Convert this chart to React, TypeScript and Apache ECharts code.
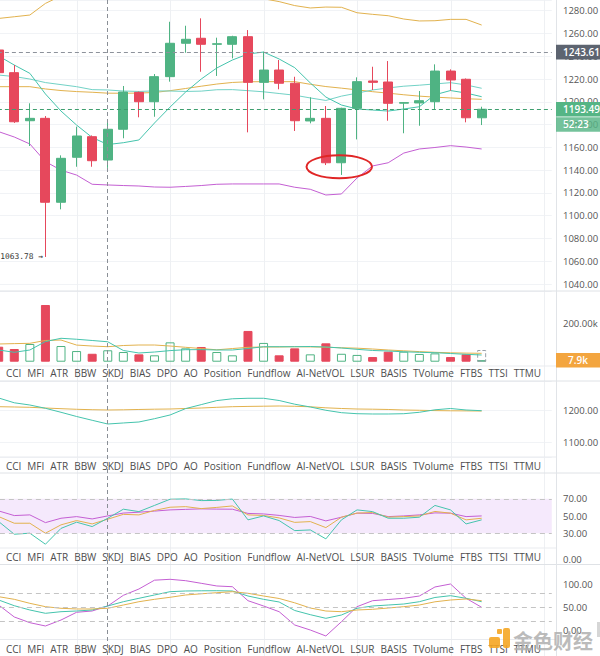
import React, { useEffect, useRef } from "react";
import * as echarts from "echarts";

// ---------- data ----------
const LABELS = ["CCI", "MFI", "ATR", "BBW", "SKDJ", "BIAS", "DPO", "AO", "Position", "Fundflow", "AI-NetVOL", "LSUR", "BASIS", "TVolume", "FTBS", "TTSI", "TTMU"];

const opens = [1245.5, 1225.6, 1183.4, 1185.5, 1111.8, 1151.3, 1169.4, 1148.9, 1175.9, 1208.3, 1200.1, 1222.1, 1251.4, 1255.8, 1250.5, 1250.5, 1257.2, 1217.1, 1227.9, 1216.3, 1183.2, 1185.5, 1146.5, 1194.3, 1218.3, 1217.4, 1198.8, 1199, 1200.1, 1227, 1219.8, 1186];
const closes = [1225.6, 1182.5, 1185.5, 1111.8, 1150.4, 1170, 1148.3, 1175.9, 1208.6, 1200.1, 1222.1, 1251.4, 1254.9, 1250.5, 1251, 1257.2, 1217.1, 1227.9, 1216.3, 1183.4, 1185.5, 1146.5, 1194.3, 1217.7, 1217.1, 1198.7, 1199.3, 1201, 1227, 1219.2, 1186, 1193.49];
const lows = [1222, 1181.5, 1161.2, 1063.78, 1105.6, 1143, 1143, 1142, 1168, 1186.4, 1186.9, 1217.7, 1243.1, 1226.4, 1222.7, 1238.2, 1173.2, 1202.2, 1211, 1174.4, 1181.1, 1144.5, 1135.8, 1167, 1210.4, 1183.4, 1172.4, 1179, 1193.4, 1209.8, 1182, 1179.6];
const highs = [1247, 1232.3, 1198.7, 1187.5, 1153, 1178.2, 1170.5, 1181.7, 1213.9, 1209, 1224.4, 1270.3, 1266.8, 1273.3, 1256.3, 1258, 1263, 1244, 1236.7, 1222, 1204, 1196.3, 1194.8, 1221.5, 1230.8, 1235.8, 1199.8, 1209.5, 1232.9, 1228.5, 1220.5, 1195.7];

const upperBand = [1273.2, 1274.7, 1276.2, 1286.4, 1293, 1298, 1302, 1304, 1305, 1305, 1304, 1303, 1302, 1300, 1298, 1295, 1292, 1290.5, 1288, 1284.5, 1282.4, 1283.2, 1283, 1278.2, 1276.8, 1275.6, 1272.7, 1271, 1271.2, 1272.4, 1272.4, 1267.4];
const midBand = [1213.3, 1213.3, 1213.3, 1211.3, 1209.9, 1209, 1208.4, 1207.6, 1207.5, 1207.7, 1208.2, 1209.8, 1211.7, 1213.7, 1215.6, 1217, 1217.6, 1217.7, 1217.7, 1217.7, 1215.4, 1213.4, 1212, 1210.5, 1208.9, 1207.6, 1206.2, 1205, 1204.1, 1203.4, 1202.7, 1202.2];
const fastMa = [1240.2, 1232.3, 1225, 1206.9, 1191.9, 1179.6, 1168.7, 1162.5, 1164.1, 1166.5, 1181.4, 1195.4, 1208.6, 1220, 1229.7, 1236.7, 1242, 1243.7, 1237.6, 1230, 1216.6, 1204.2, 1197.2, 1193.7, 1192.8, 1191.9, 1193.7, 1195.7, 1206.2, 1209.9, 1207.7, 1204.5];
const slowMa = [1223.5, 1222.2, 1220, 1216.9, 1215.1, 1213.3, 1210.7, 1210.4, 1209.5, 1209.1, 1209.6, 1209.5, 1209.1, 1209.4, 1210.6, 1210.7, 1209.8, 1208.8, 1207.3, 1205.8, 1203.4, 1201.2, 1205, 1207.6, 1210.4, 1212.2, 1213.7, 1214.6, 1215.7, 1216.8, 1214.8, 1211.9];
const lowerBand = [1173.8, 1169.1, 1163, 1147.5, 1140, 1135.7, 1127.6, 1127, 1126.5, 1126.1, 1125.2, 1125, 1125.7, 1126.5, 1127.6, 1127.9, 1127.9, 1127.9, 1127.9, 1125, 1123.2, 1118.2, 1119.1, 1133.1, 1143.7, 1146.5, 1155, 1158.6, 1159.9, 1161.5, 1160.3, 1158.6];

const volumes = [77.5, 65.6, 91.5, 293, 81, 55, 41, 59, 50, 38, 33, 100, 69, 76, 50, 33, 159, 97, 33, 69, 38, 95, 41, 35, 24, 52, 52, 40, 43, 24, 38, 7.9];
const volMaOrange = [91.5, 93.5, 95, 109.6, 112, 86, 81, 77.5, 83.7, 86.3, 86.3, 81, 74.4, 68, 61.5, 68, 74.4, 76, 76, 77.5, 76.5, 75, 72, 70, 65.6, 60.5, 56.3, 52.2, 48.6, 46, 44.4, 43.4];
const volMaTeal = [60.5, 48.6, 60.5, 104, 121, 116, 109.6, 103, 58, 45, 50, 57.4, 62, 62.5, 60.5, 60.5, 68, 77.5, 77.5, 77.5, 78.6, 76, 70.8, 64, 58, 55.3, 51.2, 48.6, 46.5, 42.4, 38.2, 34.6];
const PENDING_VOL = 60.5;

const p3Teal = [1239.7, 1224.7, 1217.8, 1207.5, 1195, 1181.9, 1170, 1158.4, 1161.6, 1164.7, 1175, 1186.6, 1206.6, 1219, 1231.6, 1237.2, 1238.8, 1238.8, 1231.9, 1220.3, 1211.6, 1201.3, 1193.8, 1190.6, 1189.7, 1189.7, 1190.6, 1195, 1202.8, 1206.9, 1202.2, 1200];
const p3Orange = [1212.5, 1211.6, 1210.6, 1208.4, 1206.3, 1204.4, 1203.1, 1202.2, 1202.8, 1203.8, 1204.7, 1205.3, 1206.9, 1208.4, 1210.6, 1212.5, 1213.4, 1214, 1214.7, 1213.8, 1212.2, 1209, 1206.9, 1205.3, 1204.7, 1203.8, 1202.2, 1201.3, 1200.3, 1199.7, 1199.4, 1199];

const p4Purple = [55.9, 50.5, 51.3, 42.3, 47.4, 49.3, 46.6, 50.1, 53.4, 54.4, 55.7, 57.1, 57.7, 58.3, 58, 57.9, 53, 52.4, 50.7, 48.3, 49.5, 44.3, 48.6, 53.3, 53, 49.3, 50.1, 51.3, 53.6, 53.3, 49.3, 50.1];
const p4Orange = [49.3, 41.6, 41.6, 30, 39.7, 44.7, 40.8, 46.3, 51.9, 51.3, 56.5, 60.2, 60.9, 58.6, 60, 61.7, 51.3, 50.6, 47.8, 42.6, 43.5, 36.5, 48.6, 53.4, 54, 48.7, 49.3, 50.1, 55.3, 53.3, 45.5, 47.4];
const p4Teal = [43.5, 28.8, 30, 17.2, 35.6, 42.8, 37.7, 47.4, 57.9, 55.1, 62.3, 69.5, 69.9, 67.9, 68.1, 69.7, 45.5, 50.1, 44.7, 33, 33.8, 23.4, 45.5, 57.1, 55.1, 47.4, 47.4, 48.6, 62.3, 57.1, 40.8, 45.5];

const kdjJ = [54.3, 28.3, 15.9, 8.7, 21.7, 38.5, 41.3, 52.2, 75.4, 89.1, 108.3, 110.2, 107.2, 101.5, 95.7, 94.1, 63.7, 52.2, 39.8, 10.9, 0, -13, 18, 50.7, 63.7, 66.3, 68.9, 73.9, 93.5, 100, 68.9, 49.3];
const kdjK = [65.2, 52.8, 43.5, 36.3, 39.8, 41.3, 43.5, 52.2, 61.5, 68.9, 76.1, 83.3, 84.8, 85.2, 85.4, 84.8, 73.9, 66.7, 60.9, 42.4, 33.3, 25.4, 32.6, 47.2, 52.2, 54.3, 56.5, 61.5, 70.7, 74.6, 68.9, 61.5];
const kdjD = [72.4, 66.7, 58, 50.7, 47.2, 45.7, 45.7, 47.2, 54.3, 61.5, 66.7, 71.1, 76.1, 78.7, 81.1, 83.3, 79.8, 73.9, 68.5, 59.1, 47.8, 41.3, 39.8, 43.5, 45, 47.8, 50.7, 54.3, 61.3, 65.2, 67.4, 63.7];

const LAST_PRICE = 1193.49;
const REF_PRICE = 1243.61;
const LOW_PRICE = 1063.78;
const CURRENT_VOL_LABEL = "7.9k";
const COUNTDOWN = "52:23";
const GRID_MARK_INDICES = [5, 11, 17, 23, 29, 35];
const CROSSHAIR_INDEX = 7;

// ---------- style ----------
const SLOTS = 36;
const categories = Array.from({ length: SLOTS }, (_, i) => String(i));
const GREEN = "#4fb383";
const RED = "#e6485c";
const TEAL = "#45c4ad";
const TEAL2 = "#72d2c6";
const ORANGE = "#e2b24e";
const PURPLE = "#c45fd3";
const AXIS_X = 556;
const BAND = 15.58;
const LEFT = -9.1;
const WIDTH = BAND * SLOTS;
const AX_OFFSET = AXIS_X - (LEFT + WIDTH);
const FONT = "'Open Sans', sans-serif";
const FS = 9.5;

const gridBase = { left: LEFT, width: WIDTH, containLabel: false, outerBoundsMode: "none" };
const grids = [
  { ...gridBase, top: 0, height: 291 },
  { ...gridBase, top: 291, height: 75 },
  { ...gridBase, top: 381, height: 76 },
  { ...gridBase, top: 473, height: 86 },
  { ...gridBase, top: 565.6, height: 73.6 },
];

function yAx(gridIndex: number, extra: any) {
  return {
    type: "value",
    gridIndex,
    position: "right",
    offset: AX_OFFSET,
    axisLine: { show: false },
    axisTick: { show: false },
    splitLine: { show: false },
    axisLabel: { color: "#555", fontSize: FS, fontFamily: FONT, margin: 7, showMinLabel: false, showMaxLabel: false },
    ...extra,
  };
}

function line(name: string, data: number[], color: string, idx: number, extra: any = {}) {
  return {
    name,
    type: "line",
    xAxisIndex: idx,
    yAxisIndex: idx,
    data,
    symbol: "none",
    showSymbol: false,
    lineStyle: { color, width: 1 },
    itemStyle: { color },
    z: 3,
    ...extra,
  };
}

function buildOption(): any {
  const candleData = opens.map((o, i) => [o, closes[i], lows[i], highs[i]]);
  const volData = volumes.map((v, i) => ({
    value: v,
    itemStyle:
      closes[i] >= opens[i]
        ? { color: "rgba(255,255,255,0)", borderColor: GREEN, borderWidth: 1 }
        : { color: RED, borderColor: RED, borderWidth: 1 },
  }));
  const pendingData = volumes.map((_, i) => (i === volumes.length - 1 ? PENDING_VOL : null));
  return {
    animation: false,
    backgroundColor: "#fff",
    grid: grids,
    xAxis: grids.map((_, i) => ({ type: "category", gridIndex: i, data: categories, boundaryGap: true, show: false })),
    yAxis: [
      yAx(0, {
        min: 1033.9, max: 1289.4, splitNumber: 12, minInterval: 20, maxInterval: 20,
        splitLine: { show: true, lineStyle: { color: "#f1f3f6", width: 1 } },
        axisLabel: { color: "#555", fontSize: FS, fontFamily: FONT, margin: 7, showMinLabel: false, showMaxLabel: false, formatter: (v: number) => v.toFixed(2) },
      }),
      yAx(1, {
        min: -22.2, max: 365.4, splitNumber: 2, minInterval: 200, maxInterval: 200,
        axisLabel: { color: "#555", fontSize: FS, fontFamily: FONT, margin: 7, showMinLabel: false, showMaxLabel: false, formatter: (v: number) => (Math.abs(v - 200) < 1e-6 ? "200.00k" : "") },
      }),
      yAx(2, {
        min: 1055.3, max: 1292.8, splitNumber: 2, minInterval: 100, maxInterval: 100,
        splitLine: { show: true, lineStyle: { color: "#f1f3f6", width: 1 } },
        axisLabel: { color: "#555", fontSize: FS, fontFamily: FONT, margin: 7, showMinLabel: false, showMaxLabel: false, formatter: (v: number) => v.toFixed(2) },
      }),
      yAx(3, {
        min: 0, max: 100, interval: 10,
        axisLabel: { color: "#555", fontSize: FS, fontFamily: FONT, margin: 7, showMinLabel: true, showMaxLabel: false, formatter: (v: number) => ([0, 30, 50, 70].includes(Math.round(v)) ? v.toFixed(2) : "") },
      }),
      yAx(4, {
        min: -20, max: 140, interval: 10,
        axisLabel: { color: "#555", fontSize: FS, fontFamily: FONT, margin: 7, showMinLabel: false, showMaxLabel: false, formatter: (v: number) => ([0, 50, 100].includes(Math.round(v)) ? v.toFixed(2) : "") },
      }),
    ],
    series: [
      {
        name: "K",
        type: "candlestick",
        xAxisIndex: 0,
        yAxisIndex: 0,
        data: candleData,
        barWidth: 9.5,
        z: 4,
        itemStyle: { color: GREEN, color0: RED, borderColor: GREEN, borderColor0: RED, borderWidth: 1 },
        markLine: {
          silent: true,
          symbol: ["none", "none"],
          label: { show: false },
          data: [
            { yAxis: REF_PRICE, lineStyle: { color: "#8d929b", type: [4, 3], width: 1 } },
            { yAxis: LAST_PRICE, lineStyle: { color: "#3f9f70", type: [4, 3], width: 1 } },
          ],
        },
      },
      line("UB", upperBand, ORANGE, 0),
      line("MB", midBand, ORANGE, 0),
      line("MA1", slowMa, TEAL2, 0),
      line("MA2", fastMa, TEAL, 0),
      line("LB", lowerBand, PURPLE, 0),
      { name: "VOL", type: "bar", xAxisIndex: 1, yAxisIndex: 1, data: volData, barWidth: 9, z: 2 },
      {
        name: "VOLP", type: "bar", xAxisIndex: 1, yAxisIndex: 1, data: pendingData, barWidth: 9, barGap: "-100%", z: 2,
        itemStyle: { color: "rgba(255,255,255,0)", borderColor: "#9aa0a8", borderWidth: 1, borderType: "dashed" },
      },
      line("VMA1", volMaOrange, ORANGE, 1),
      line("VMA2", volMaTeal, TEAL, 1),
      line("P3A", p3Orange, ORANGE, 2),
      line("P3B", p3Teal, TEAL, 2),
      line("P4P", p4Purple, PURPLE, 3, {
        markArea: { silent: true, itemStyle: { color: "#f5e9fc" }, data: [[{ yAxis: 30 }, { yAxis: 70 }]] },
        markLine: {
          silent: true, symbol: ["none", "none"], label: { show: false },
          lineStyle: { color: "#c4c4c4", type: [5, 4], width: 1 },
          data: [{ yAxis: 30 }, { yAxis: 70 }],
        },
      }),
      line("P4O", p4Orange, ORANGE, 3),
      line("P4T", p4Teal, TEAL, 3),
      line("KDJ_J", kdjJ, PURPLE, 4, {
        markLine: {
          silent: true, symbol: ["none", "none"], label: { show: false },
          lineStyle: { color: "#c4c4c4", type: [5, 4], width: 1 },
          data: [{ yAxis: 20 }, { yAxis: 50 }, { yAxis: 80 }],
        },
      }),
      line("KDJ_K", kdjK, TEAL, 4),
      line("KDJ_D", kdjD, ORANGE, 4),
    ],
  };
}

function buildGraphic(chart: any) {
  const px = (i: number) => chart.convertToPixel({ xAxisIndex: 0 }, categories[i]);
  const py = (axis: number, v: number) => chart.convertToPixel({ yAxisIndex: axis }, v);
  const els: any[] = [];
  const H = 656;

  // vertical grid lines
  GRID_MARK_INDICES.forEach((i) => {
    const x = Math.round(px(i)) + 0.5;
    els.push({ type: "line", z: 0, silent: true, shape: { x1: x, y1: 0, x2: x, y2: H }, style: { stroke: "#eef0f3", lineWidth: 1 } });
  });
  // panel bottoms
  [366, 457, 548, 639.5].forEach((y) => {
    els.push({ type: "line", z: 1, silent: true, shape: { x1: 0, y1: y, x2: AXIS_X, y2: y }, style: { stroke: "#e9ebef", lineWidth: 1 } });
  });
  // separators
  [291, 381, 473, 564.5].forEach((y) => {
    els.push({ type: "line", z: 1, silent: true, shape: { x1: 0, y1: y, x2: 600, y2: y }, style: { stroke: "#dfe2e6", lineWidth: 1 } });
  });
  // right axis line
  els.push({ type: "line", z: 1, silent: true, shape: { x1: AXIS_X + 0.5, y1: 0, x2: AXIS_X + 0.5, y2: H }, style: { stroke: "#e1e4e8", lineWidth: 1 } });

  // crosshair
  const cx = Math.round(px(CROSSHAIR_INDEX)) - 0.5;
  els.push({ type: "line", z: 40, silent: true, shape: { x1: cx, y1: 0, x2: cx, y2: H }, style: { stroke: "#8a8f96", lineWidth: 1, lineDash: [4, 3] } });

  // label rows
  const canvas = document.createElement("canvas");
  const ctx = canvas.getContext("2d")!;
  const LFS = 10;
  ctx.font = `${LFS}px 'Open Sans'`;
  const widths = LABELS.map((t) => ctx.measureText(t).width);
  const total = widths.reduce((a, b) => a + b, 0);
  const startX = 6;
  const endX = 541;
  const gap = (endX - startX - total) / (LABELS.length - 1);
  [373, 465.5, 556.5, 648.5].forEach((y) => {
    let x = startX;
    LABELS.forEach((t, k) => {
      els.push({ type: "text", z: 30, silent: true, x, y, style: { text: t, fill: "#4d4d4d", fontSize: LFS, fontFamily: FONT, align: "left", verticalAlign: "middle" } });
      x += widths[k] + gap;
    });
  });

  // price boxes
  const box = (y: number, fill: string, text: string, center = false) => {
    els.push({ type: "rect", z: 45, silent: true, shape: { x: AXIS_X, y: y - 7.3, width: 600 - AXIS_X, height: 14.6 }, style: { fill } });
    els.push({
      type: "text", z: 46, silent: true, x: center ? (AXIS_X + 600) / 2 : 563, y,
      style: { text, fill: "#fff", fontSize: 10, fontWeight: 600, fontFamily: FONT, align: center ? "center" : "left", verticalAlign: "middle" },
    });
  };
  const yRef = py(0, REF_PRICE);
  const yLast = py(0, LAST_PRICE);
  box(yRef, "#5d6470", REF_PRICE.toFixed(2));
  box(yLast, "#55b585", LAST_PRICE.toFixed(2));
  box(yLast + 15.2, "rgba(85,181,133,0.82)", COUNTDOWN, false);
  box(py(1, volumes[volumes.length - 1]), "#f3a53f", CURRENT_VOL_LABEL, true);

  // low label
  const lowIdx = lows.indexOf(LOW_PRICE);
  els.push({
    type: "text", z: 30, silent: true, x: px(lowIdx) - 2.5, y: py(0, LOW_PRICE),
    style: { text: `${LOW_PRICE.toFixed(2)} →`, fill: "#333", fontSize: 7.9, fontFamily: "'DejaVu Sans Mono', monospace", align: "right", verticalAlign: "middle" },
  });

  // red annotation ellipse around the two candles at the swing low
  const e1 = px(21), e2 = px(22);
  els.push({
    type: "ellipse", z: 35, silent: true,
    shape: { cx: e2 - 2.2, cy: py(0, 1143), rx: (e2 - e1) * 2.1, ry: 11.5 },
    style: { stroke: "#e02626", fill: "rgba(0,0,0,0)", lineWidth: 2 },
  });

  // watermark
  els.push({ type: "rect", z: 50, silent: true, shape: { x: 489, y: 637, width: 11, height: 11, r: 2 }, style: { fill: "#f5a623", opacity: 0.9 } });
  els.push({ type: "rect", z: 50, silent: true, shape: { x: 503, y: 628, width: 7, height: 20, r: 2 }, style: { fill: "#f5a623", opacity: 0.9 } });
  els.push({ type: "rect", z: 50, silent: true, shape: { x: 497, y: 629, width: 5, height: 5, r: 1 }, style: { fill: "#f5a623", opacity: 0.9 } });
  els.push({
    type: "text", z: 50, silent: true, x: 513, y: 640,
    style: { text: "金色财经", fill: "rgba(175,175,175,0.85)", fontSize: 20, fontWeight: "bold", fontFamily: "'Noto Sans CJK SC', sans-serif", align: "left", verticalAlign: "middle" },
  });
  els.push({ type: "rect", z: 50, silent: true, shape: { x: 597, y: 622, width: 3, height: 15 }, style: { fill: "#d6d6d6" } });

  return { elements: els };
}

export default function App() {
  const ref = useRef<HTMLDivElement>(null);
  useEffect(() => {
    document.body.style.margin = "0";
    const chart = echarts.init(ref.current!, null, { renderer: "svg" });
    chart.setOption(buildOption());
    chart.setOption({ graphic: buildGraphic(chart) });
    return () => chart.dispose();
  }, []);
  return <div ref={ref} style={{ position: "fixed", left: 0, top: 0, width: 600, height: 656, background: "#fff" }} />;
}
